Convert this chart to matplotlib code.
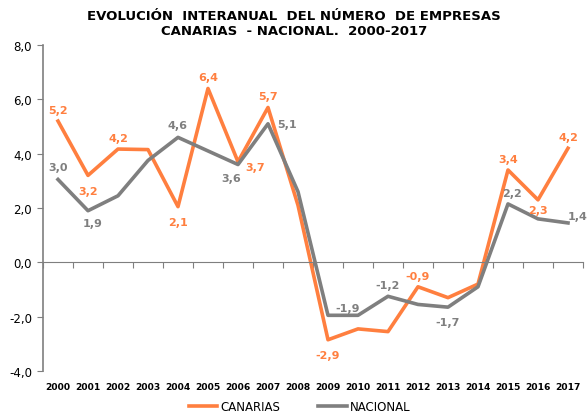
import numpy as np
import matplotlib
matplotlib.use("Agg")
import matplotlib.pyplot as plt

years = [str(y) for y in range(2000, 2018)]
canarias = [5.2, 3.2, 4.17, 4.15, 2.05, 6.4, 3.7, 5.7, 2.1, -2.85, -2.45, -2.55,
            -0.9, -1.3, -0.8, 3.4, 2.3, 4.2]
nacional = [3.05, 1.9, 2.45, 3.75, 4.6, 4.1, 3.6, 5.1, 2.6, -1.95, -1.95, -1.25,
            -1.55, -1.65, -0.9, 2.15, 1.6, 1.45]

# (index, label text, dx, dy) offsets in points
can_labels = [(0, "5,2", 0, 8), (1, "3,2", 0, -11), (2, "4,2", 0, 8),
              (4, "2,1", 0, -11), (5, "6,4", 0, 8), (6, "3,7", 12, -4),
              (7, "5,7", 0, 8), (9, "-2,9", 0, -11), (12, "-0,9", 0, 8),
              (15, "3,4", 0, 8), (16, "2,3", 0, -7), (17, "4,2", 0, 8)]
nac_labels = [(0, "3,0", 0, 9), (1, "1,9", 3, -9), (4, "4,6", 0, 9),
              (6, "3,6", -5, -10), (7, "5,1", 14, 0), (9, "-1,9", 14, 5),
              (11, "-1,2", 0, 8), (13, "-1,7", 0, -11), (15, "2,2", 3, 8),
              (17, "1,4", 7, 5)]

ORANGE = "#FF7F3F"
GRAY = "#7F7F7F"

plt.rcParams["font.family"] = ["DejaVu Sans"]
fig = plt.figure(figsize=(5.88, 4.14), dpi=100)
ax = fig.add_axes([43 / 588, 1 - 372 / 414, 540 / 588, 326 / 414])

x = np.arange(len(years))
ax.plot(x, canarias, color=ORANGE, lw=2.6, label="CANARIAS")
ax.plot(x, nacional, color=GRAY, lw=2.6, label="NACIONAL")

for i, t, dx, dy in can_labels:
    ax.annotate(t, (x[i], canarias[i]), xytext=(dx, dy), textcoords="offset points",
                ha="center", va="center", fontsize=8, fontweight="bold", color=ORANGE)
for i, t, dx, dy in nac_labels:
    ax.annotate(t, (x[i], nacional[i]), xytext=(dx, dy), textcoords="offset points",
                ha="center", va="center", fontsize=8, fontweight="bold", color=GRAY)

ax.set_xlim(-0.5, len(years) - 0.5)
ax.set_ylim(-4, 8)
ax.set_yticks(np.arange(-4, 9, 2))
ax.set_yticklabels([f"{v:.1f}".replace(".", ",") for v in np.arange(-4, 9, 2)], fontsize=8.5)
ax.tick_params(axis="y", length=4, color=GRAY, pad=4)

# category labels below the plot, tick marks on the zero line
ax.set_xticks(np.arange(-0.5, len(years), 1), minor=False)
ax.set_xticklabels([])
ax.tick_params(axis="x", direction="out", length=4, color=GRAY)
for i, yr in enumerate(years):
    ax.text(i, -4.4, yr, ha="center", va="top", fontsize=6.6, fontweight="bold")

for s in ["top", "right"]:
    ax.spines[s].set_visible(False)
ax.spines["bottom"].set_position(("data", 0))
ax.spines["bottom"].set_color(GRAY)
ax.spines["left"].set_color(GRAY)
ax.spines["left"].set_linewidth(1.2)

fig.suptitle("EVOLUCIÓN  INTERANUAL  DEL NÚMERO  DE EMPRESAS\nCANARIAS  - NACIONAL.  2000-2017",
             y=0.975, fontsize=9.5, fontweight="bold", linespacing=1.2)

fig.legend(loc="lower center", bbox_to_anchor=(0.51, -0.025), ncol=2, frameon=False,
           fontsize=8.5, handlelength=2.4, handletextpad=0.3, columnspacing=3.2)

fig.savefig("out.png", dpi=100)
